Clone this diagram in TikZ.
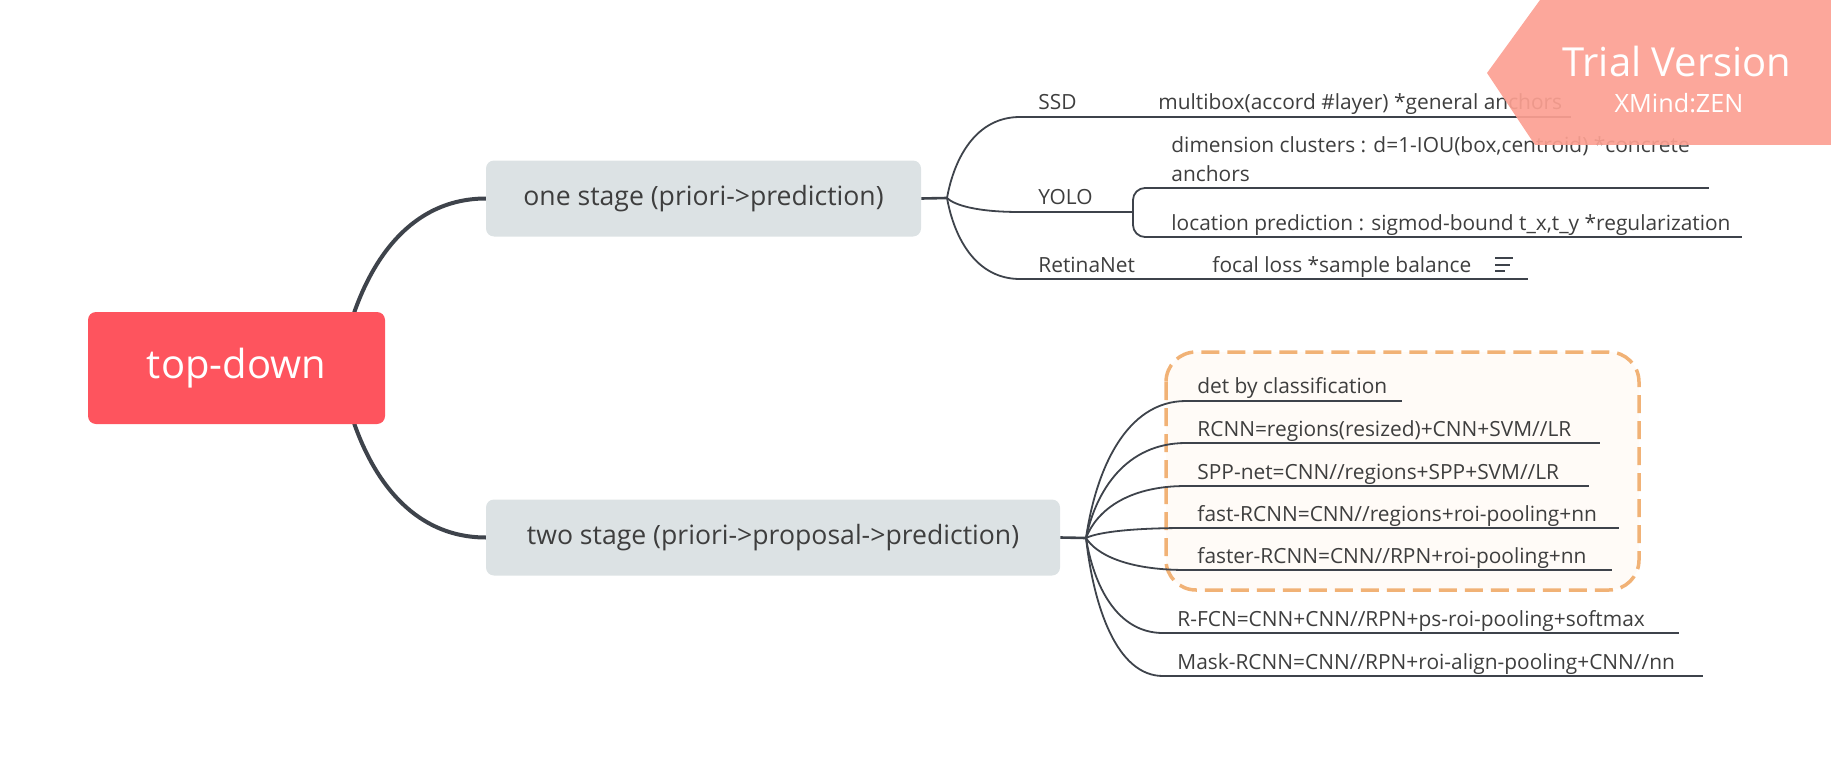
\documentclass[tikz,border=0pt]{standalone}
\usepackage{fontspec}
\setmainfont{Open Sans}
\usetikzlibrary{calc}
\definecolor{rootred}{RGB}{254,84,94}
\definecolor{stagegray}{RGB}{220,226,228}
\definecolor{linec}{RGB}{62,67,75}
\definecolor{textc}{RGB}{62,62,62}
\definecolor{banner}{RGB}{252,160,146}
\definecolor{dashor}{RGB}{241,178,118}
\definecolor{boxfill}{RGB}{255,251,247}
\tikzset{
  branch/.style={to path={let \p1=(\tikztostart), \p2=(\tikztotarget) in
     .. controls ({\x1+0.1*(\x2-\x1)},{\y1+0.5*(\y2-\y1)}) and ({\x1+0.4*(\x2-\x1)},\y2) .. (\tikztotarget)}},
  rootbox/.style={fill=rootred, rounded corners=4pt, minimum width=148.5pt, minimum height=56pt, text=white, font=\fontsize{20pt}{24pt}\selectfont, inner sep=0pt},
  stagebox/.style={fill=stagegray, rounded corners=4pt, minimum height=38pt, text=textc, font=\fontsize{13.3pt}{16pt}\selectfont, inner sep=0pt},
  leaf/.style={anchor=base west, inner sep=0pt, text=textc, font=\fontsize{10.45pt}{12pt}\selectfont},
  thickc/.style={draw=linec, line width=2pt},
  midc/.style={draw=linec, line width=1.3pt},
  thinc/.style={draw=linec, line width=0.9pt},
  uline/.style={draw=linec, line width=1pt},
}
\begin{document}
\begin{tikzpicture}[x=0.5pt,y=-0.5pt]
\useasboundingbox (0,0) rectangle (1831,765);

% dashed group box
\draw[dashor, fill=boxfill, line width=1.75pt, dash pattern=on 9pt off 4pt, rounded corners=15pt] (1166,352) rectangle (1639,590);

% coordinates
\coordinate (rs) at (340,368);
\coordinate (b1) at (947,198);
\coordinate (b2) at (1086,538);

% root connectors
\draw[thickc] (rs) to[branch] (486,198.5) coordinate (s1w);
\draw[thickc] (rs) to[branch] (486,537.5) coordinate (s2w);

% boxes
\node[rootbox] (root) at (236.5,368) {top-down};
\node[stagebox, minimum width=217.5pt] (s1) at (703.5,198.5) {one stage (priori->prediction)};
\node[stagebox, minimum width=287pt] (s2) at (773,537.5) {two stage (priori->proposal->prediction)};

\draw[midc] (s1.east) -- (b1);
\draw[midc] (s2.east) -- (b2);

% one stage children
\node[leaf] (ssd) at (1038,110) {SSD};
\node[leaf] (mb) at (1158,110) {multibox(accord \#layer) *general anchors};
\node[leaf] (yolo) at (1038,205) {YOLO};
\node[leaf] (dc1) at (1171,153) {dimension clusters : d=1-IOU(box,centroid) *concrete};
\node[leaf] (dc2) at (1171,182) {anchors};
\node[leaf] (lp) at (1171,230) {location prediction : sigmod-bound t\_x,t\_y *regularization};
\node[leaf] (ret) at (1038,272) {RetinaNet};
\node[leaf] (fl) at (1212,272) {focal loss *sample balance};

\coordinate (ssdL) at (1020,117);
\coordinate (mbR) at (1571,117);
\coordinate (yoloL) at (1020,212);
\coordinate (yoloR) at (1133,212);
\coordinate (dcL) at (1158,188);
\coordinate (dcR) at (1709,188);
\coordinate (lpL) at (1158,237);
\coordinate (lpR) at (1742,237);
\coordinate (retL) at (1020,279);
\coordinate (flR) at (1528,279);

\draw[thinc] (b1) to[branch] (ssdL);
\draw[thinc] (b1) to[branch] (yoloL);
\draw[thinc] (b1) to[branch] (retL);
\draw[uline] (ssdL) -- (mbR);
\draw[uline] (yoloL) -- (yoloR);
\draw[uline] (retL) -- (flR);
\draw[thinc, rounded corners=6pt] (yoloR) |- (dcL);
\draw[thinc, rounded corners=6pt] (yoloR) |- (lpL);
\draw[uline] (dcL) -- (dcR);
\draw[uline] (lpL) -- (lpR);

% notes icon
\draw[linec, line width=0.8pt] (1495,258) -- (1513,258) (1495,265) -- (1510,265) (1495,271) -- (1505,271);

% two stage children
\node[leaf] (det) at (1197,393) {det by classification};
\node[leaf] (rcnn) at (1197,436) {RCNN=regions(resized)+CNN+SVM//LR};
\node[leaf] (spp) at (1197,479) {SPP-net=CNN//regions+SPP+SVM//LR};
\node[leaf] (fast) at (1197,521) {fast-RCNN=CNN//regions+roi-pooling+nn};
\node[leaf] (faster) at (1197,563) {faster-RCNN=CNN//RPN+roi-pooling+nn};
\node[leaf] (rfcn) at (1177,626) {R-FCN=CNN+CNN//RPN+ps-roi-pooling+softmax};
\node[leaf] (mask) at (1177,669) {Mask-RCNN=CNN//RPN+roi-align-pooling+CNN//nn};

\coordinate (Ldet) at (1186,401);   \coordinate (Rdet) at (1402,401);
\coordinate (Lrcnn) at (1186,443);  \coordinate (Rrcnn) at (1600,443);
\coordinate (Lspp) at (1186,486);   \coordinate (Rspp) at (1589,486);
\coordinate (Lfast) at (1186,528);  \coordinate (Rfast) at (1619,528);
\coordinate (Lfaster) at (1186,570);\coordinate (Rfaster) at (1612,570);
\coordinate (Lrfcn) at (1163,633);  \coordinate (Rrfcn) at (1679,633);
\coordinate (Lmask) at (1163,676);  \coordinate (Rmask) at (1703,676);

\foreach \k in {det,rcnn,spp,fast,faster,rfcn,mask}{
  \draw[thinc] (b2) to[branch] (L\k);
  \draw[uline] (L\k) -- (R\k);
}

% trial banner
\fill[banner, opacity=0.92] (1540,0) -- (1831,0) -- (1831,145) -- (1535,145) -- (1487,73) -- cycle;
\node[text=white, font=\fontsize{20pt}{24pt}\selectfont, inner sep=0pt] (tv) at (1677,62) {Trial Version};
\node[text=white, font=\fontsize{12.6pt}{15pt}\selectfont, inner sep=0pt] (xz) at (1679,103) {XMind:ZEN};
\end{tikzpicture}
\end{document}
